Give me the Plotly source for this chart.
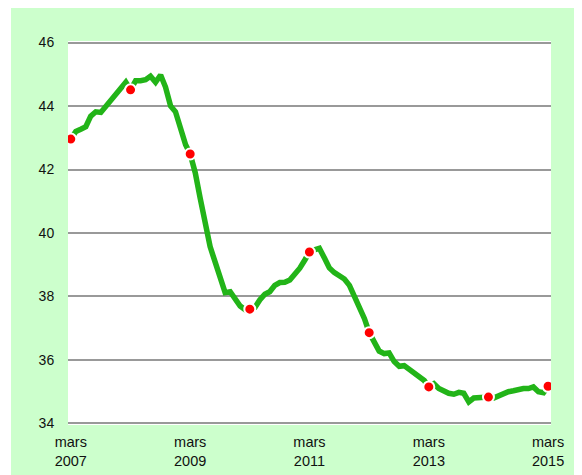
import pandas as pd
import plotly.graph_objects as go

# Monthly values, March 2007 -> March 2015
start_month = "2007-03-01"
values = [
    42.96, 43.20, 43.27, 43.35, 43.68, 43.82, 43.80, 43.99, 44.20, 44.40, 44.55, 44.75,
    44.51, 44.80, 44.80, 44.83, 44.94, 44.75, 44.98, 44.60, 44.00, 43.82, 43.30, 42.78,
    42.49, 41.90, 41.10, 40.38, 39.57, 39.08, 38.56, 38.12, 38.15, 37.92, 37.70, 37.58,
    37.60, 37.65, 37.89, 38.07, 38.15, 38.35, 38.44, 38.45, 38.52, 38.68, 38.89, 39.15,
    39.40, 39.47, 39.52, 39.21, 38.90, 38.75, 38.65, 38.55, 38.35, 38.00, 37.70, 37.30,
    36.86, 36.55, 36.28, 36.20, 36.22, 35.95, 35.80, 35.82, 35.70, 35.55, 35.47, 35.35,
    35.15, 35.25, 35.10, 35.00, 34.95, 34.92, 34.98, 34.95, 34.68, 34.80, 34.82, 34.82,
    34.83, 34.80, 34.88, 34.95, 35.00, 35.03, 35.08, 35.10, 35.10, 35.15, 35.00, 34.97,
    35.17,
]
marker_step = 12  # red dot each March

tick_dates = ["2007-03-01", "2009-03-01", "2011-03-01", "2013-03-01", "2015-03-01"]
tick_labels = ["mars<br>2007", "mars<br>2009", "mars<br>2011", "mars<br>2013", "mars<br>2015"]
y_ticks = [34, 36, 38, 40, 42, 44, 46]

dates = pd.date_range(start_month, periods=len(values), freq="MS")
mk_dates = dates[::marker_step]
mk_values = values[::marker_step]

W, H = 574, 467
ML, MR, MT, MB = 60, 31, 33, 50

fig = go.Figure()
fig.add_trace(go.Scatter(
    x=dates, y=values, mode="lines",
    line=dict(color="#22b418", width=5.5),
    hoverinfo="skip", showlegend=False,
))
fig.add_trace(go.Scatter(
    x=mk_dates, y=mk_values, mode="markers",
    marker=dict(color="#ff0000", size=11, line=dict(color="white", width=2)),
    showlegend=False,
))

plot_w = W - ML - MR
fig.add_shape(type="rect", xref="paper", yref="paper",
              x0=-(ML + 1) / plot_w, x1=-(ML - 3) / plot_w, y0=-0.5, y1=1.5,
              fillcolor="white", line=dict(width=0), layer="above")

fig.update_layout(
    width=W, height=H,
    margin=dict(l=ML, r=MR, t=MT, b=MB, autoexpand=False),
    paper_bgcolor="#ccffcc",
    plot_bgcolor="white",
    font=dict(family="Liberation Sans, Arial, sans-serif", size=14, color="#111111"),
    xaxis=dict(
        range=["2007-02-12", "2015-03-19"],
        tickmode="array", tickvals=tick_dates, ticktext=tick_labels,
        showgrid=False, zeroline=False, showline=False, automargin=False,
        ticks="outside", ticklen=4, tickcolor="rgba(0,0,0,0)",
        tickfont=dict(size=14.5),
    ),
    yaxis=dict(
        range=[33.95, 46.05],
        tickmode="array", tickvals=y_ticks,
        showgrid=True, gridcolor="#999999", gridwidth=2,
        zeroline=False, showline=False, automargin=False,
        ticks="outside", ticklen=10, tickcolor="rgba(0,0,0,0)",
        tickfont=dict(size=14),
    ),
)

fig.write_html("out.html")
